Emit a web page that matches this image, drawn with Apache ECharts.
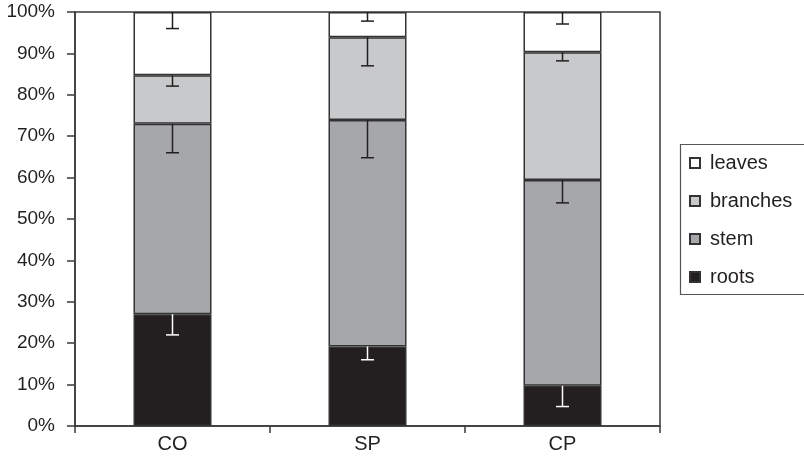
<!DOCTYPE html>
<html>
<head>
<meta charset="utf-8">
<script src="https://cdn.jsdelivr.net/npm/echarts@6/dist/echarts.min.js"></script>
<style>html,body{margin:0;padding:0;background:#fff;}#c{width:804px;height:458px;}</style>
</head>
<body>
<div id="c"></div>
<script>
const categories = ['CO', 'SP', 'CP'];
const roots = [27, 19.2, 9.7];
const stem = [46, 54.7, 49.7];
const branches = [11.7, 20, 30.9];
const leaves = [15.3, 6.1, 9.7];
const rootsErr = [5, 3.2, 5];
const stemErr = [7, 9.1, 5.5];
const branchesErr = [2.6, 6.9, 2.1];
const leavesErr = [4, 2.2, 2.9];
const yTicks = [0, 10, 20, 30, 40, 50, 60, 70, 80, 90, 100];

const layers = [
  { name: 'roots', values: roots, err: rootsErr, color: '#231f20', errColor: '#ffffff' },
  { name: 'stem', values: stem, err: stemErr, color: '#a6a7aa', errColor: '#231f20' },
  { name: 'branches', values: branches, err: branchesErr, color: '#c8c9cb', errColor: '#231f20' },
  { name: 'leaves', values: leaves, err: leavesErr, color: '#ffffff', errColor: '#231f20' }
];

const textColor = '#231f20';
const lineColor = '#3a3a3a';
const font = 'Liberation Sans, Arial, sans-serif';

const series = [];
const cum = categories.map(() => 0);
const errData = [];
layers.forEach(l => {
  series.push({
    name: l.name, type: 'bar', stack: 'total', barWidth: '40%',
    data: l.values,
    itemStyle: { color: l.color, borderColor: '#333', borderWidth: 1.5 },
    emphasis: { disabled: true }, animation: false
  });
  l.values.forEach((v, i) => {
    cum[i] += v;
    errData.push([i, cum[i], cum[i] - l.err[i], l.errColor]);
  });
});

series.push({
  type: 'custom', z: 10, animation: false, silent: true,
  data: errData,
  encode: { x: 0, y: [1, 2] },
  renderItem: function (params, api) {
    const c = api.value(0);
    const top = api.coord([c, api.value(1)]);
    const bot = api.coord([c, api.value(2)]);
    const col = errData[params.dataIndex][3];
    const hw = 6.5;
    const st = { stroke: col, lineWidth: 1.5 };
    return {
      type: 'group',
      children: [
        { type: 'line', shape: { x1: top[0], y1: top[1], x2: bot[0], y2: bot[1] }, style: st },
        { type: 'line', shape: { x1: bot[0] - hw, y1: bot[1], x2: bot[0] + hw, y2: bot[1] }, style: st }
      ]
    };
  }
});

const chart = echarts.init(document.getElementById('c'), null, { renderer: 'canvas' });
chart.setOption({
  animation: false,
  backgroundColor: '#fff',
  grid: { left: 75, right: 144, top: 12, bottom: 32, show: true, borderColor: lineColor, borderWidth: 1.5, backgroundColor: 'transparent' },
  graphic: [{
    type: 'rect', silent: true,
    shape: { x: 680.5, y: 144.5, width: 200, height: 150 },
    style: { fill: 'none', stroke: '#555', lineWidth: 1.2 }
  }],
  legend: {
    left: 680, top: 144, orient: 'vertical',
    data: ['leaves', 'branches', 'stem', 'roots'],
    icon: 'rect', itemWidth: 10, itemHeight: 10, itemGap: 18,
    padding: [9, 10, 8, 9],
    textStyle: { fontFamily: font, fontSize: 20, color: textColor, lineHeight: 20, padding: [0, 0, 0, 5] },
    selectedMode: false
  },
  xAxis: {
    type: 'category', data: categories,
    axisLine: { lineStyle: { color: lineColor, width: 1.5 } },
    axisTick: { show: true, length: 7, lineStyle: { color: lineColor, width: 1.5 } },
    axisLabel: { fontFamily: font, fontSize: 20, color: textColor, margin: 8 }
  },
  yAxis: {
    type: 'value', min: yTicks[0], max: yTicks[yTicks.length - 1], interval: 10,
    axisLine: { show: true, lineStyle: { color: lineColor, width: 1.5 } },
    axisTick: { show: true, length: 8, lineStyle: { color: lineColor, width: 1.5 } },
    splitLine: { show: false },
    axisLabel: { fontFamily: font, fontSize: 19, color: textColor, margin: 20, formatter: '{value}%' }
  },
  series: series
});
</script>
</body>
</html>
